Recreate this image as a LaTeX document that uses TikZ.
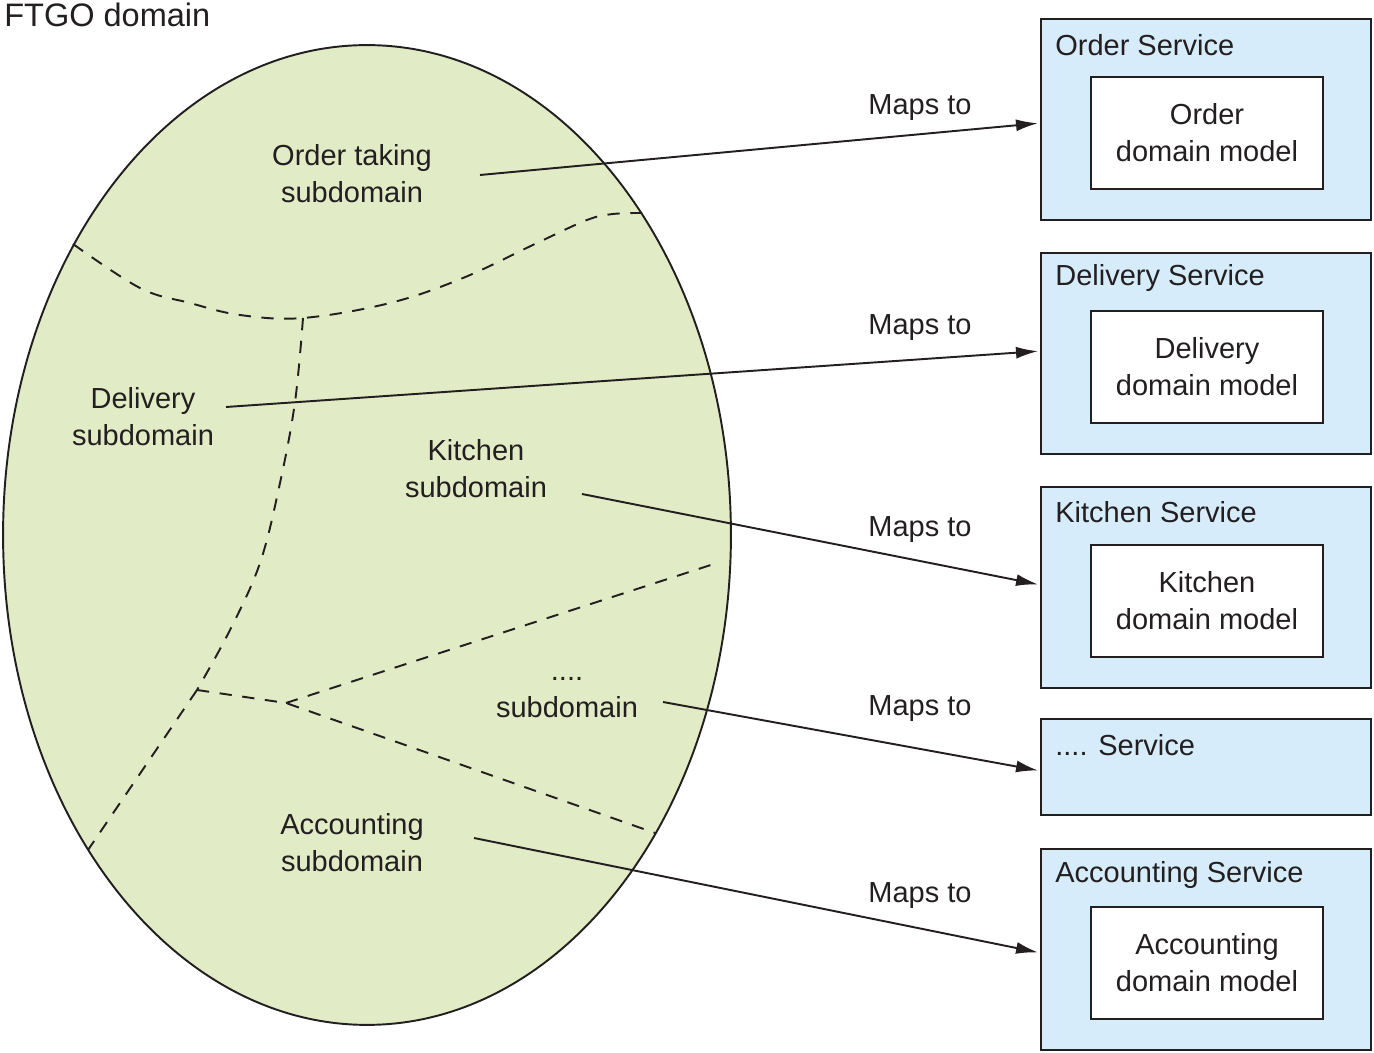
\documentclass[tikz,border=0pt]{standalone}
\usepackage{fontspec}
\setmainfont{Liberation Sans}
\usetikzlibrary{arrows.meta}
\definecolor{domgreen}{RGB}{225,235,197}
\definecolor{svcblue}{RGB}{214,236,250}
\definecolor{ink}{RGB}{35,31,32}
\tikzset{
  txt/.style={font=\fontsize{16.5}{21}\selectfont, text=ink, align=center, inner sep=0pt},
  svcbox/.style={draw=ink, line width=1.1pt, fill=svcblue, minimum width=6.6cm, minimum height=4.02cm, inner sep=0pt},
  smallsvc/.style={draw=ink, line width=1.1pt, fill=svcblue, minimum width=6.6cm, minimum height=1.92cm, inner sep=0pt},
  modelbox/.style={draw=ink, line width=1.1pt, fill=white, minimum width=4.64cm, minimum height=2.24cm, txt},
  divider/.style={draw=ink, line width=1.1pt, dash pattern=on 7pt off 6pt},
  mapsarrow/.style={draw=ink, line width=1.1pt, -{Latex[length=4.4mm,width=2.4mm]}, shorten >=0.06cm}
}
\begin{document}
\begin{tikzpicture}[x=0.02cm,y=-0.02cm]
\useasboundingbox (0,0) rectangle (1374,1053);
% domain ellipse
\draw[draw=ink, line width=1.1pt, fill=domgreen] (367,535) ellipse [x radius=7.28cm, y radius=9.8cm];
\node[txt, font=\fontsize{18.5}{22}\selectfont, anchor=west] (ftgo) at (4,15) {FTGO domain};
% dividers
\draw[divider] plot[smooth, tension=0.6] coordinates {(73,244) (140,288) (190,303) (240,315) (303,318) (390,303) (463,278) (537,243) (587,220) (613,214) (642,213)};
\draw[divider] plot[smooth, tension=0.6] coordinates {(303,318) (295,402) (280,483) (260,563) (230,630) (197,690)};
\draw[divider] (197,690) -- (88,850);
\draw[divider] (197,690) -- (286,703) -- (655,833);
\draw[divider] (286,703) -- (720,562);
% subdomain labels
\node[txt] (order) at (352,174) {Order taking\\subdomain};
\node[txt] (delivery) at (143,417) {Delivery\\subdomain};
\node[txt] (kitchen) at (476,469) {Kitchen\\subdomain};
\node[txt] (other) at (567,698) {....\\subdomain};
\node[txt] (accounting) at (352,843) {Accounting\\subdomain};
% services
\node[svcbox] (osvc) at (1206,119.5) {};
\node[txt, anchor=west] (osvct) at (1055,45) {Order Service};
\node[modelbox] (omod) at (1207,133) {Order\\domain model};

\node[svcbox] (dsvc) at (1206,353.5) {};
\node[txt, anchor=west] (dsvct) at (1055,278) {Delivery Service};
\node[modelbox] (dmod) at (1207,367) {Delivery\\domain model};

\node[svcbox] (ksvc) at (1206,587.5) {};
\node[txt, anchor=west] (ksvct) at (1055,512) {Kitchen Service};
\node[modelbox] (kmod) at (1207,601) {Kitchen\\domain model};

\node[smallsvc] (xsvc) at (1206,767) {};
\node[txt, anchor=west] (xsvct) at (1055,745) {.... Service};

\node[svcbox] (asvc) at (1206,949.5) {};
\node[txt, anchor=west] (asvct) at (1055,875) {Accounting Service};
\node[modelbox] (amod) at (1207,963) {Accounting\\domain model};

% arrow start points
\coordinate (s1) at (480,175);
\coordinate (s2) at (226,407);
\coordinate (s3) at (582,494);
\coordinate (s4) at (663,702);
\coordinate (s5) at (474,838);
\coordinate (e1) at (1041,123);
\coordinate (e2) at (1041,351);
\coordinate (e3) at (1041,585);
\coordinate (e4) at (1041,771);
\coordinate (e5) at (1041,953);
\draw[mapsarrow] (s1) -- (e1);
\draw[mapsarrow] (s2) -- (e2);
\draw[mapsarrow] (s3) -- (e3);
\draw[mapsarrow] (s4) -- (e4);
\draw[mapsarrow] (s5) -- (e5);
\node[txt] (m1) at (920,108) {Maps to};
\node[txt] (m2) at (920,328) {Maps to};
\node[txt] (m3) at (920,530) {Maps to};
\node[txt] (m4) at (920,709) {Maps to};
\node[txt] (m5) at (920,896) {Maps to};
\end{tikzpicture}
\end{document}
